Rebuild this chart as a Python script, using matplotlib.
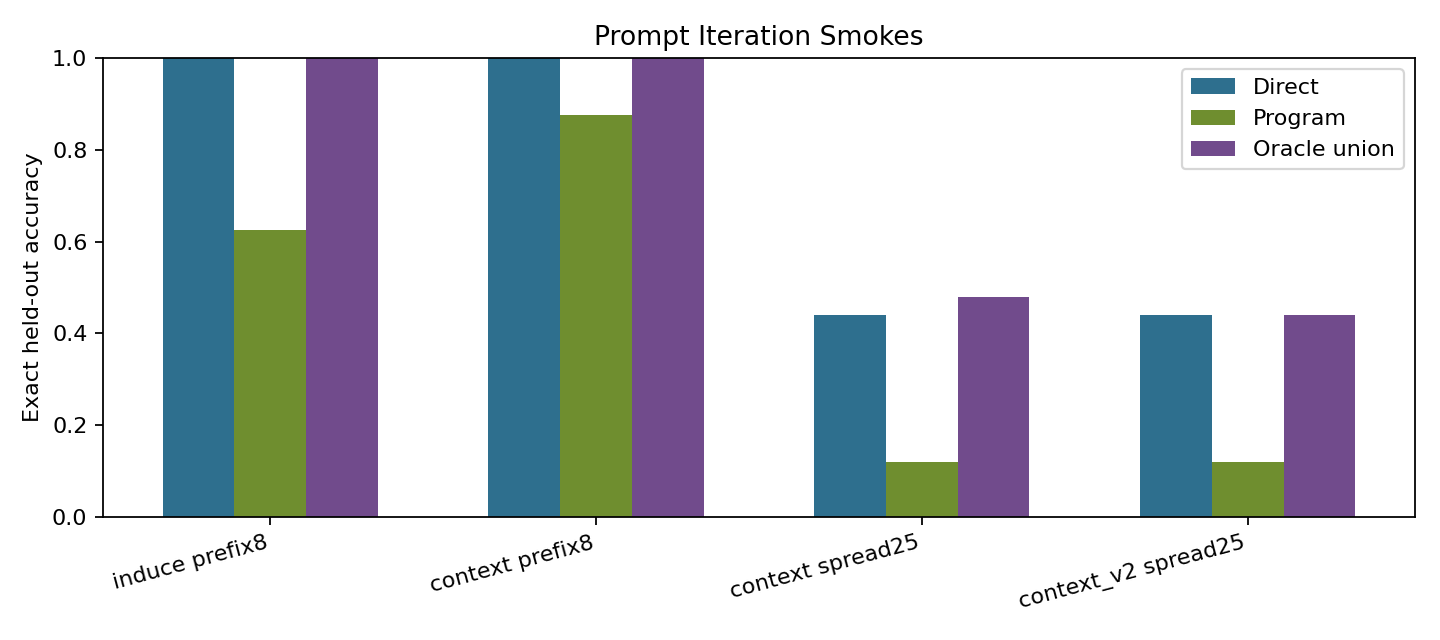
import numpy as np
import matplotlib
matplotlib.use('Agg')
import matplotlib.pyplot as plt

# Data
categories = ['induce prefix8', 'context prefix8', 'context spread25', 'context_v2 spread25']
direct = [1.0, 1.0, 0.44, 0.44]
program = [0.625, 0.875, 0.12, 0.12]
oracle_union = [1.0, 1.0, 0.48, 0.44]

series_names = ['Direct', 'Program', 'Oracle union']
colors = ['#2E6F8E', '#6F8E2F', '#714B8C']

width = 0.22
x = np.arange(len(categories))

fig, ax = plt.subplots(figsize=(9, 4), dpi=160)
plt.subplots_adjust(left=0.0715, right=0.9826, top=0.9094, bottom=0.1922)

for i, (name, vals, c) in enumerate(zip(series_names, [direct, program, oracle_union], colors)):
    ax.bar(x + (i - 1) * width, vals, width, label=name, color=c)

ax.set_xticks(x)
ax.set_xticklabels(categories, rotation=15, ha='right')
ax.set_ylim(0, 1.0)
ax.set_ylabel('Exact held-out accuracy')
ax.set_title('Prompt Iteration Smokes')
ax.legend(loc='upper right')

fig.savefig('out.png')
